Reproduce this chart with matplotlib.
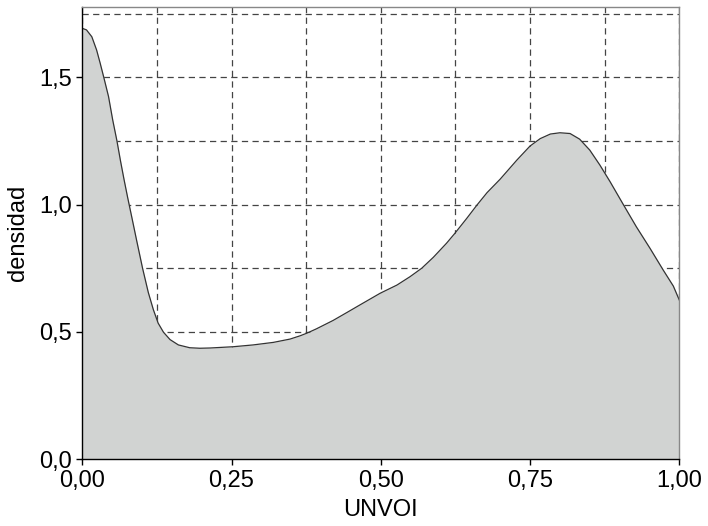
import numpy as np
import matplotlib.pyplot as plt

# density curve
unvoi = [0.000, 0.007, 0.016, 0.024, 0.030, 0.036, 0.044, 0.051, 0.058, 0.064,
         0.070, 0.076, 0.083, 0.091, 0.101, 0.1106, 0.119, 0.127, 0.136, 0.147,
         0.161, 0.180, 0.197, 0.214, 0.253, 0.286, 0.320, 0.348, 0.365, 0.376,
         0.392, 0.420, 0.443, 0.465, 0.499, 0.527, 0.549, 0.5685, 0.588, 0.610,
         0.624, 0.644, 0.661, 0.678, 0.700, 0.728, 0.750, 0.767, 0.784, 0.800,
         0.817, 0.833, 0.850, 0.867, 0.884, 0.906, 0.928, 0.951, 0.973, 0.990,
         1.000]
densidad = [1.692, 1.686, 1.659, 1.607, 1.555, 1.500, 1.424, 1.332, 1.251, 1.172,
            1.098, 1.028, 0.950, 0.860, 0.750, 0.655, 0.588, 0.535, 0.499, 0.470,
            0.449, 0.438, 0.436, 0.437, 0.442, 0.449, 0.459, 0.472, 0.485, 0.495,
            0.512, 0.545, 0.576, 0.606, 0.652, 0.684, 0.717, 0.750, 0.793, 0.848,
            0.887, 0.946, 0.998, 1.047, 1.100, 1.175, 1.230, 1.259, 1.277, 1.282,
            1.279, 1.257, 1.214, 1.155, 1.090, 1.001, 0.913, 0.828, 0.743, 0.680,
            0.625]

x_ticks = [0.0, 0.25, 0.5, 0.75, 1.0]
x_labels = ['0,00', '0,25', '0,50', '0,75', '1,00']
y_ticks = [0.0, 0.5, 1.0, 1.5]
y_labels = ['0,0', '0,5', '1,0', '1,5']

plt.rcParams['font.family'] = ['Liberation Sans', 'DejaVu Sans']

fig = plt.figure(figsize=(7.08, 5.26), dpi=100)
ax = fig.add_axes([0.1162, 0.1268, 0.8433, 0.8605])

ax.fill_between(unvoi, densidad, 0, color='#d1d3d2', linewidth=0, zorder=1)
ax.plot(unvoi, densidad, color='#333333', linewidth=0.9, zorder=2,
        solid_joinstyle='round')

ax.set_xlim(0, 1)
ax.set_ylim(0, 1.777)

ax.set_xticks(x_ticks)
ax.set_xticklabels(x_labels)
ax.set_yticks(y_ticks)
ax.set_yticklabels(y_labels)
ax.set_xticks(np.arange(0.125, 1.0, 0.125), minor=True)
ax.set_yticks(np.arange(0.25, 1.76, 0.25), minor=True)

ax.set_axisbelow(True)
ax.grid(which='both', color='#444444', linestyle=(0, (5, 3.5)), linewidth=0.9)

ax.tick_params(which='major', direction='out', length=4.5, width=1,
               labelsize=17, pad=3, color='black')
ax.tick_params(which='minor', length=0)

for side in ['left', 'bottom']:
    ax.spines[side].set_color('black')
    ax.spines[side].set_linewidth(1)
for side in ['top', 'right']:
    ax.spines[side].set_color('#888888')
    ax.spines[side].set_linewidth(1)

ax.set_xlabel('UNVOI', fontsize=17, labelpad=5)
ax.set_ylabel('densidad', fontsize=17, labelpad=7)

fig.savefig('out.png', dpi=100)
